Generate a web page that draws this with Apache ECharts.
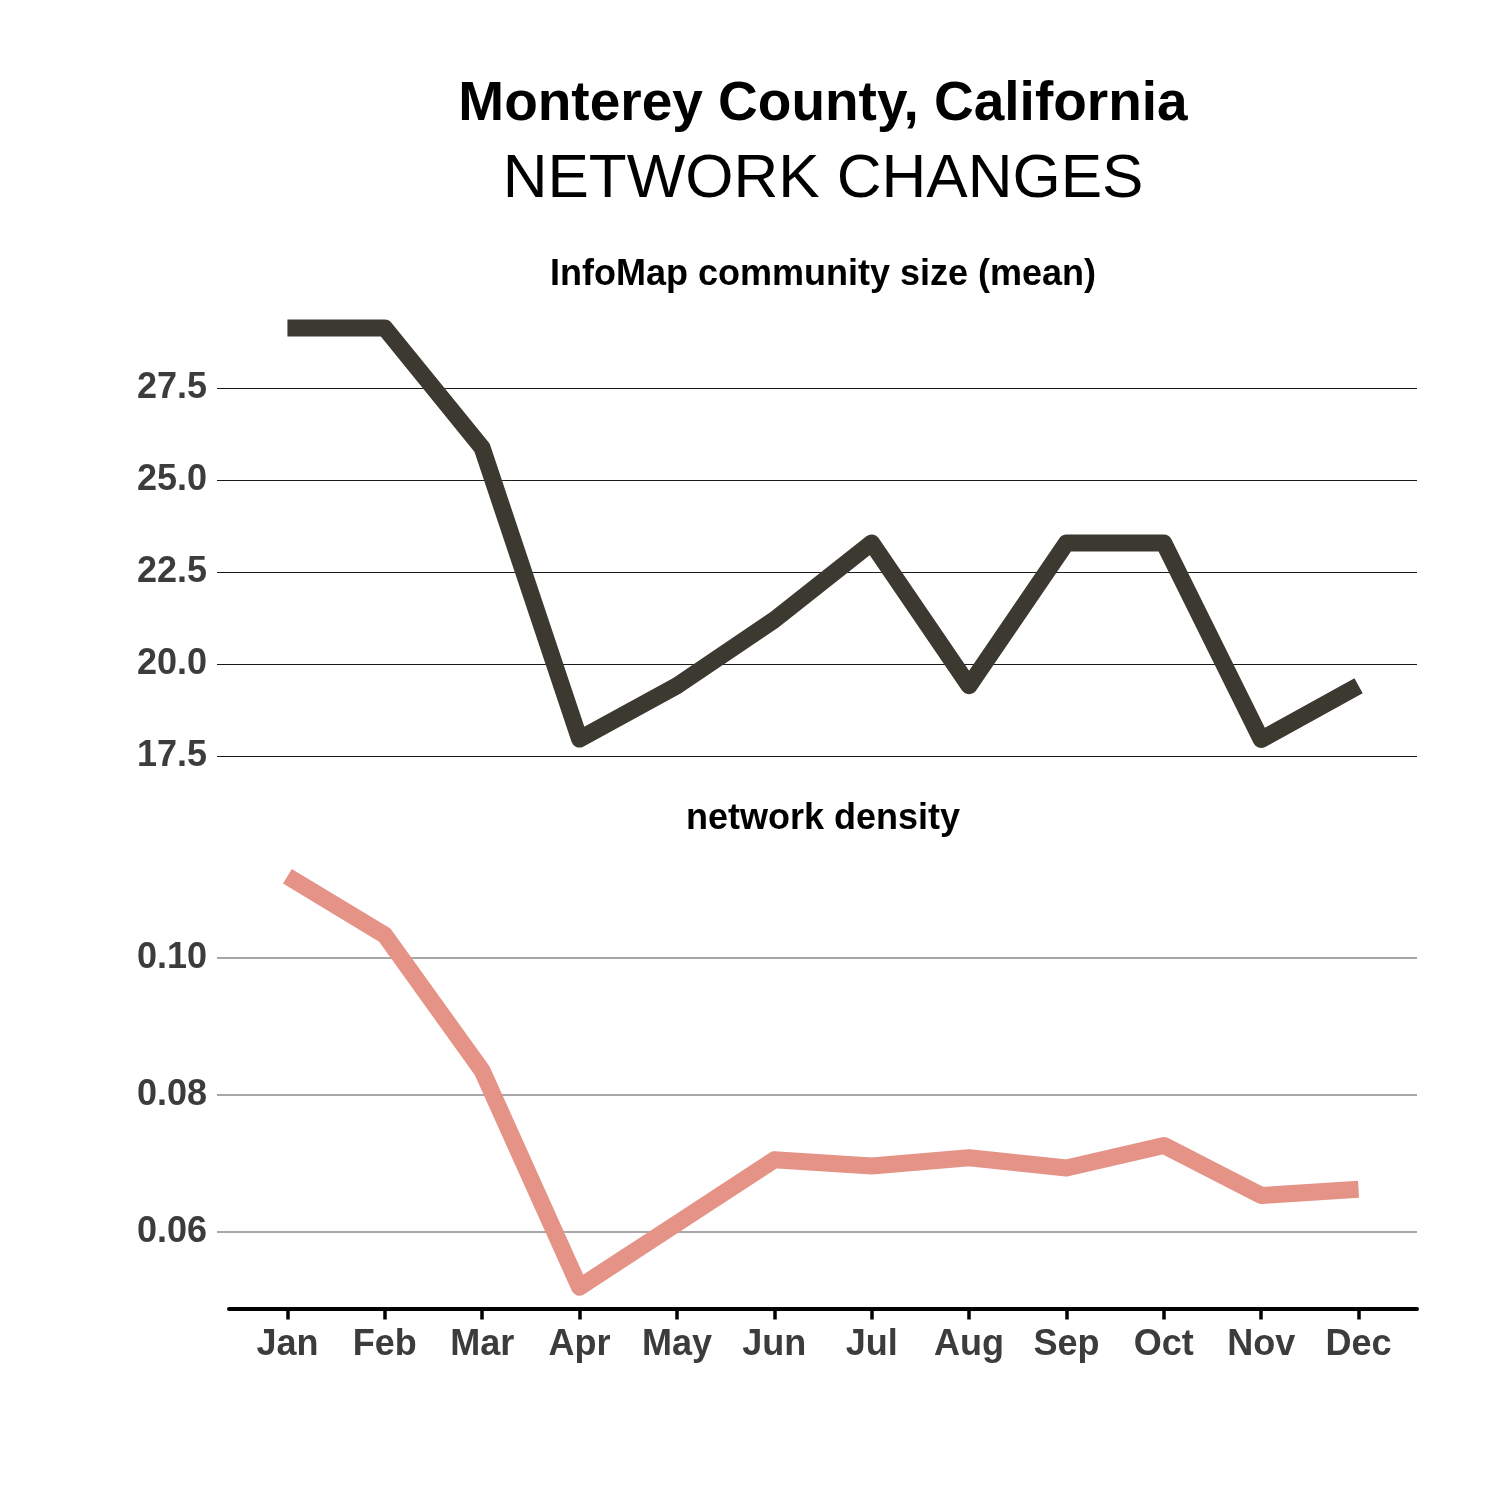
<!DOCTYPE html>
<html>
<head>
<meta charset="utf-8">
<script src="https://cdn.jsdelivr.net/npm/echarts@6/dist/echarts.min.js"></script>
<style>
html,body{margin:0;padding:0;background:#fff;}
#chart{width:1500px;height:1500px;}
</style>
</head>
<body>
<div id="chart"></div>
<script>
const months = ['Jan','Feb','Mar','Apr','May','Jun','Jul','Aug','Sep','Oct','Nov','Dec'];
const communitySize = [29.13, 29.13, 25.87, 17.96, 19.41, 21.2, 23.29, 19.41, 23.29, 23.29, 17.95, 19.41];
const density = [0.1119, 0.1033, 0.0835, 0.0519, 0.0612, 0.0705, 0.0696, 0.0708, 0.0693, 0.0726, 0.0653, 0.0662];
const sizeTicks = [17.5, 20.0, 22.5, 25.0, 27.5];
const densityTicks = [0.06, 0.08, 0.10];
const titleMain = 'Monterey County, California';
const titleSub = 'NETWORK CHANGES';
const panelTitles = ['InfoMap community size (mean)', 'network density'];

const FONT = 'Liberation Sans, Arial, Helvetica, sans-serif';
const LABEL_COLOR = '#3c3c3c';
const monthIdx = months.map((m, i) => i);

const chart = echarts.init(document.getElementById('chart'), null, {renderer: 'canvas'});

function hiddenX(gridIndex) {
  return {type: 'value', gridIndex, min: -0.6, max: 11.6, show: false};
}

const option = {
  animation: false,
  backgroundColor: '#ffffff',
  title: [
    {text: titleMain, left: 823, top: 77, textAlign: 'center', padding: 0,
     textStyle: {fontFamily: FONT, fontSize: 55, fontWeight: 'bold', color: '#000', lineHeight: 55}},
    {text: titleSub, left: 823, top: 149, textAlign: 'center', padding: 0,
     textStyle: {fontFamily: FONT, fontSize: 62, fontWeight: 'normal', color: '#000', lineHeight: 62}},
    {text: panelTitles[0], left: 823, top: 257, textAlign: 'center', padding: 0,
     textStyle: {fontFamily: FONT, fontSize: 36, fontWeight: 'bold', color: '#000', lineHeight: 36}},
    {text: panelTitles[1], left: 823, top: 801, textAlign: 'center', padding: 0,
     textStyle: {fontFamily: FONT, fontSize: 36, fontWeight: 'bold', color: '#000', lineHeight: 36}}
  ],
  grid: [
    {left: 229, right: 83, top: 308.5, height: 447.5},
    {left: 229, right: 83, top: 855, height: 513.7},
    {left: 229, right: 83, top: 1307.5, height: 1}
  ],
  xAxis: [
    hiddenX(0),
    hiddenX(1),
    {
      type: 'value', gridIndex: 2, min: -0.6, max: 11.6, position: 'bottom',
      axisLine: {show: true, onZero: false, lineStyle: {color: '#000', width: 4}},
      axisTick: {show: true, length: 11, customValues: monthIdx, lineStyle: {color: '#000', width: 3.5}},
      axisLabel: {
        show: true, customValues: monthIdx, margin: 19,
        formatter: v => months[Math.round(v)] || '',
        fontFamily: FONT, fontSize: 36, fontWeight: 'bold', color: LABEL_COLOR
      },
      splitLine: {show: false}
    }
  ],
  yAxis: [
    {
      type: 'value', gridIndex: 0, min: 17.5, max: 29.66, interval: 2.5,
      axisLine: {show: false, onZero: false},
      axisTick: {show: true, length: 12, customValues: sizeTicks, lineStyle: {color: '#1a1a1a', width: 1}},
      axisLabel: {
        show: true, customValues: sizeTicks, margin: 22,
        formatter: v => v.toFixed(1),
        fontFamily: FONT, fontSize: 36, fontWeight: 'bold', color: LABEL_COLOR
      },
      splitLine: {show: true, showMinLine: true, showMaxLine: true, lineStyle: {color: '#1a1a1a', width: 1}}
    },
    {
      type: 'value', gridIndex: 1, min: 0.04, max: 0.115, interval: 0.02,
      axisLine: {show: false, onZero: false},
      axisTick: {show: true, length: 12, customValues: densityTicks, lineStyle: {color: '#8a8a8a', width: 1.5}},
      axisLabel: {
        show: true, customValues: densityTicks, margin: 22,
        formatter: v => v.toFixed(2),
        fontFamily: FONT, fontSize: 36, fontWeight: 'bold', color: LABEL_COLOR
      },
      splitLine: {show: true, showMinLine: true, showMaxLine: true, lineStyle: {color: '#8a8a8a', width: 1.5}}
    },
    {type: 'value', gridIndex: 2, show: false, min: 0, max: 1}
  ],
  series: [
    {
      type: 'line', xAxisIndex: 0, yAxisIndex: 0,
      data: communitySize.map((v, i) => [i, v]),
      showSymbol: false, symbol: 'none',
      lineStyle: {color: '#3c3930', width: 17, cap: 'butt', join: 'round'},
      silent: true
    },
    {
      type: 'line', xAxisIndex: 1, yAxisIndex: 1,
      data: density.map((v, i) => [i, v]),
      showSymbol: false, symbol: 'none',
      lineStyle: {color: '#e49386', width: 17, cap: 'butt', join: 'round'},
      silent: true
    }
  ]
};
chart.setOption(option);
</script>
</body>
</html>
